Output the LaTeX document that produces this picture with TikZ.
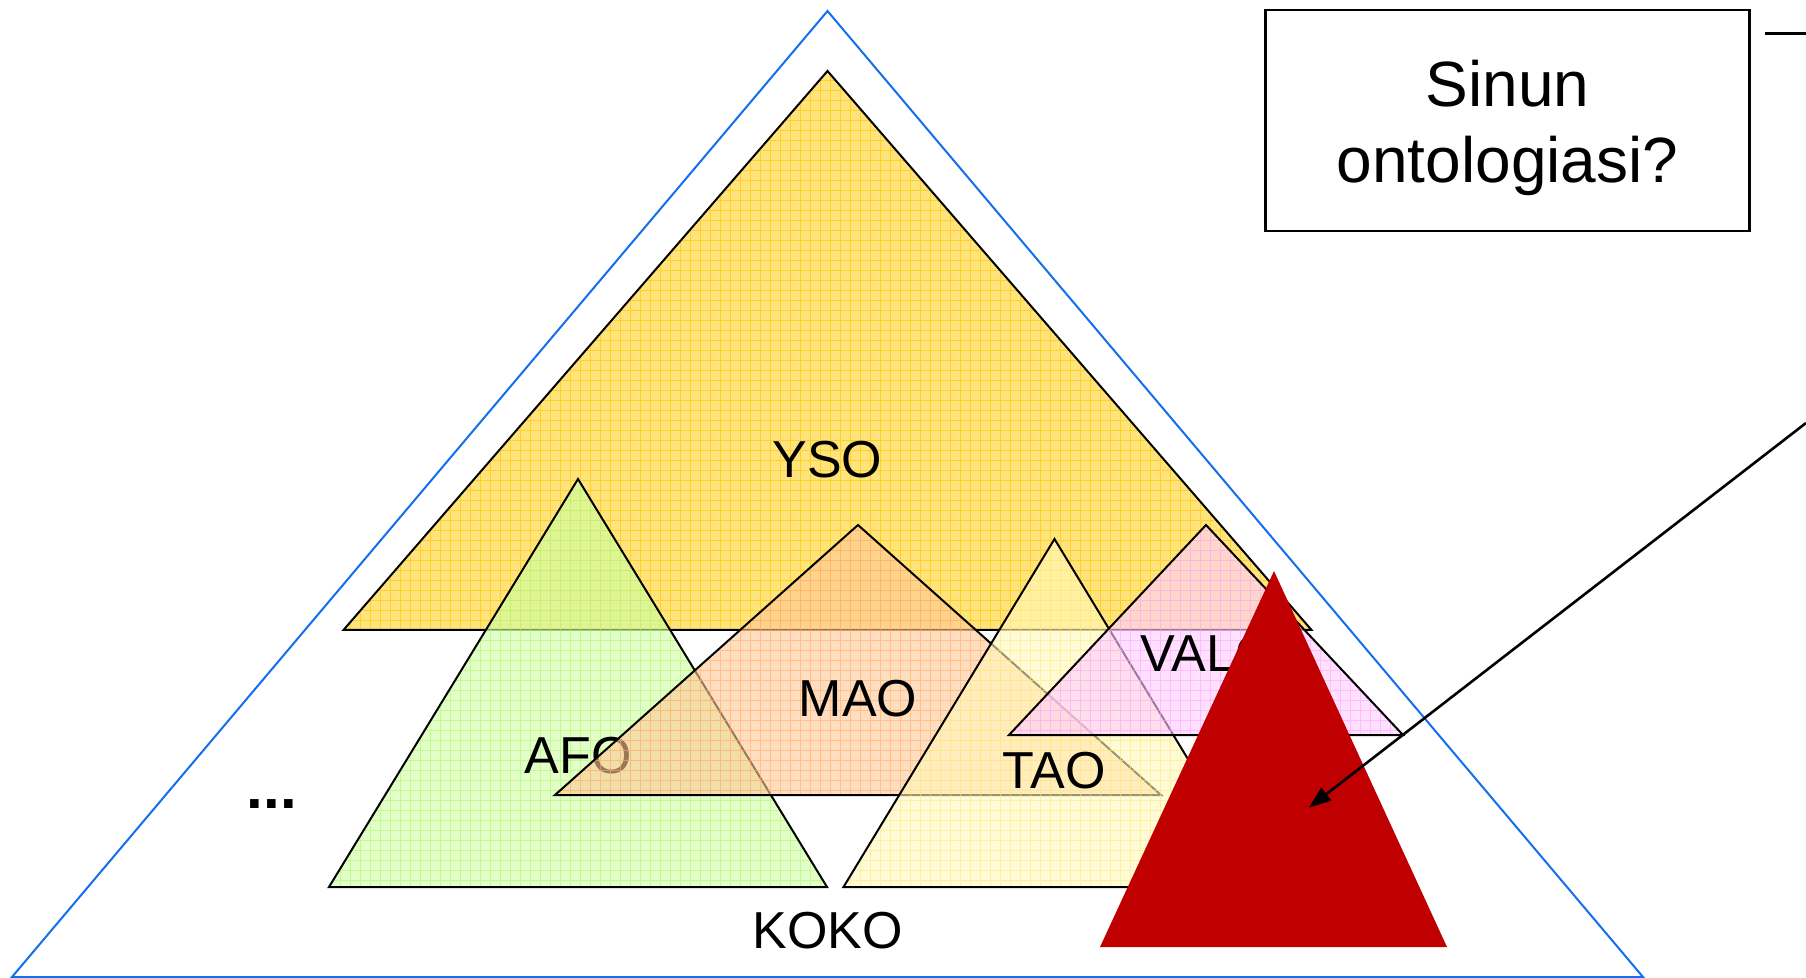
\documentclass[tikz,border=0pt]{standalone}
\usepackage{fontspec}
\setmainfont{Liberation Sans}
\usetikzlibrary{arrows.meta}
\definecolor{bluel}{RGB}{20,110,240}
\definecolor{ysofill}{RGB}{255,228,125}
\definecolor{ysogrid}{RGB}{255,208,40}
\definecolor{afofill}{RGB}{205,255,163}
\definecolor{afogrid}{RGB}{175,245,115}
\definecolor{maofill}{RGB}{255,200,150}
\definecolor{maogrid}{RGB}{255,172,105}
\definecolor{taofill}{RGB}{255,250,185}
\definecolor{taogrid}{RGB}{255,230,135}
\definecolor{valofill}{RGB}{255,205,255}
\definecolor{valogrid}{RGB}{255,165,255}
\definecolor{darkred}{RGB}{192,0,0}
\tikzset{
  lbl/.style={font=\fontsize{26pt}{30pt}\selectfont, inner sep=0pt, anchor=base},
  dotlbl/.style={font=\fontsize{30pt}{34pt}\selectfont\bfseries, inner sep=0pt, anchor=base},
  boxtext/.style={font=\fontsize{32pt}{38pt}\selectfont, inner sep=0pt, anchor=base},
  outline/.style={draw=black, line width=1pt, line join=miter},
  qbox/.style={draw=black, line width=1.25pt, minimum width=242pt, minimum height=110.5pt, inner sep=0pt},
  pointer/.style={draw=black, line width=1.3pt, -{Triangle[length=11pt,width=8pt]}},
  plainline/.style={draw=black, line width=1.25pt},
}
% #1 apex x, #2 apex y, #3 half width, #4 base y, #5 fill, #6 grid colour, #7 opacity
\newcommand\texttri[7]{%
  \begin{scope}
    \clip (#1,#2) -- (#1+#3,#4) -- (#1-#3,#4) -- cycle;
    \fill[#5, fill opacity=#7] (#1-#3-5,#2-5) rectangle (#1+#3+5,#4+5);
    \draw[#6, line width=0.45pt, draw opacity=#7, step=5pt] (#1-#3-10,#4+10) grid (#1+#3+10,#2-10);
  \end{scope}
  \draw[outline] (#1,#2) -- (#1+#3,#4) -- (#1-#3,#4) -- cycle;
}
\begin{document}
\begin{tikzpicture}[x=0.5pt, y=-0.5pt]
\useasboundingbox (0,0) rectangle (1806,978);
\fill[white] (0,0) rectangle (1806,978);

% outer blue triangle
\draw[bluel, line width=1pt, line join=miter] (827.5,11) -- (1643,977) -- (12,977) -- cycle;

% YSO
\texttri{827.5}{71}{484}{630}{ysofill}{ysogrid}{1}
\node[lbl] (yso) at (827.5,478) {YSO};

% AFO
\texttri{578}{479}{249}{887}{afofill}{afogrid}{0.6}
\node[lbl] (afo) at (578,773) {AFO};

% MAO
\texttri{858}{525}{303}{795}{maofill}{maogrid}{0.6}
\node[lbl] (mao) at (858,716) {MAO};

% TAO
\texttri{1054.5}{539}{211}{887}{taofill}{taogrid}{0.6}
\node[lbl] (tao) at (1054,788) {TAO};

% VALO
\texttri{1206}{525}{197}{735}{valofill}{valogrid}{0.6}
\node[lbl] (valo) at (1208,671) {VALO};

% dots and KOKO
\node[dotlbl] (dots) at (272,808) {...};
\node[lbl] (koko) at (827.5,948) {KOKO};

% red triangle
\fill[darkred] (1274,571) -- (1447,947) -- (1100,947) -- cycle;

% question box
\node[qbox] (q) at (1507.5,120.75) {};
\node[boxtext] (q1) at (1507.5,107) {Sinun};
\node[boxtext] (q2) at (1507.5,183) {ontologiasi?};

% lines
\coordinate (l1) at (1765,33.5);
\coordinate (l2) at (1806,33.5);
\draw[plainline] (l1) -- (l2);
\coordinate (a1) at (1806,423);
\coordinate (a2) at (1309,807.5);
\draw[pointer] (a1) -- (a2);
\end{tikzpicture}
\end{document}
